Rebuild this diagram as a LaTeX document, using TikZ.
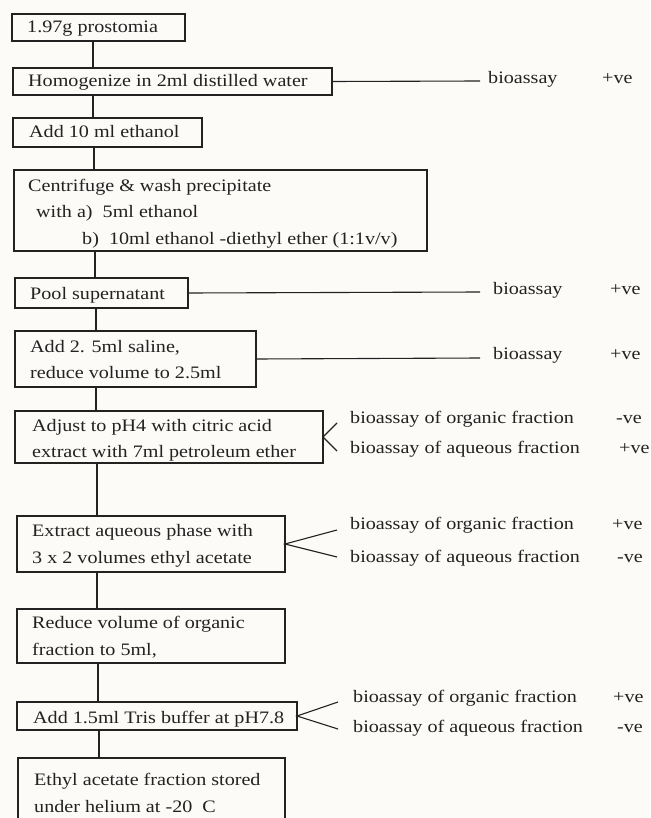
\documentclass[tikz,border=0pt]{standalone}
\usepackage{fontspec}
\setmainfont{Liberation Serif}[FakeStretch=1.15]
\definecolor{ink}{HTML}{222222}
\definecolor{paper}{HTML}{FCFBF8}
\begin{document}
\begin{tikzpicture}[x=1pt,y=-1pt,
  box/.style={draw=ink, line width=1.1pt, inner sep=0pt, outer sep=0pt, anchor=north west},
  txt/.style={anchor=base west, inner sep=0pt, text=ink, font=\fontsize{17.5}{20}\selectfont},
  link/.style={draw=ink, line width=1.1pt}]
\clip (0,0) rectangle (650,818);
\fill[paper] (0,0) rectangle (650,818);
% boxes
\node[box, minimum width=173pt, minimum height=27pt] (b1) at (12,14) {};
\node[box, minimum width=319pt, minimum height=27pt] (b2) at (13,68) {};
\node[box, minimum width=189pt, minimum height=29pt] (b3) at (13,118) {};
\node[box, minimum width=413pt, minimum height=81pt] (b4) at (14,170) {};
\node[box, minimum width=173pt, minimum height=30pt] (b5) at (15,278) {};
\node[box, minimum width=241pt, minimum height=56pt] (b6) at (15,331) {};
\node[box, minimum width=308pt, minimum height=52pt] (b7) at (15,411) {};
\node[box, minimum width=268pt, minimum height=56pt] (b8) at (17,516) {};
\node[box, minimum width=268pt, minimum height=54pt] (b9) at (17,609) {};
\node[box, minimum width=280pt, minimum height=28pt] (b10) at (17,702) {};
\node[box, minimum width=267pt, minimum height=90pt] (b11) at (18,758) {};
% box texts
\node[txt] (t1) at (27,33) {1.97g prostomia};
\node[txt] (t2) at (28,87) {Homogenize in 2ml distilled water};
\node[txt] (t3) at (29,138) {Add 10 ml ethanol};
\node[txt] (t4a) at (28,192) {Centrifuge \& wash precipitate};
\node[txt] (t4b) at (36,218) {with a)\ \ 5ml ethanol};
\node[txt] (t4c) at (82,244) {b)\ \ 10ml ethanol -diethyl ether (1:1v/v)};
\node[txt] (t5) at (30,299) {Pool supernatant};
\node[txt] (t6a) at (30,352) {Add 2. 5ml saline,};
\node[txt] (t6b) at (30,378) {reduce volume to 2.5ml};
\node[txt] (t7a) at (32,431) {Adjust to pH4 with citric acid};
\node[txt] (t7b) at (32,457) {extract with 7ml petroleum ether};
\node[txt] (t8a) at (32,536) {Extract aqueous phase with};
\node[txt] (t8b) at (32,563) {3 x 2 volumes ethyl acetate};
\node[txt] (t9a) at (32,628) {Reduce volume of organic};
\node[txt] (t9b) at (32,655) {fraction to 5ml,};
\node[txt] (t10) at (33,723) {Add 1.5ml Tris buffer at pH7.8};
\node[txt] (t11a) at (34,785) {Ethyl acetate fraction stored};
\node[txt] (t11b) at (34,812) {under helium at -20\ \ C};
% vertical connectors
\draw[link] (93,0 |- b1.south) -- (93,0 |- b2.north);
\draw[link] (93,0 |- b2.south) -- (93,0 |- b3.north);
\draw[link] (94,0 |- b3.south) -- (94,0 |- b4.north);
\draw[link] (95,0 |- b4.south) -- (95,0 |- b5.north);
\draw[link] (96,0 |- b5.south) -- (96,0 |- b6.north);
\draw[link] (96,0 |- b6.south) -- (96,0 |- b7.north);
\draw[link] (97,0 |- b7.south) -- (97,0 |- b8.north);
\draw[link] (97,0 |- b8.south) -- (97,0 |- b9.north);
\draw[link] (98,0 |- b9.south) -- (98,0 |- b10.north);
\draw[link] (99,0 |- b10.south) -- (99,0 |- b11.north);
% side results
\coordinate (e2) at (480,81);
\coordinate (e5) at (480,292);
\coordinate (e6) at (480,358);
\draw[link] (b2.east) -- (e2);
\draw[link] (b5.east) -- (e5);
\draw[link] (b6.east) -- (e6);
\node[txt] (r2) at (488,84) {bioassay};
\node[txt] (p2) at (602,84) {+ve};
\node[txt] (r5) at (493,294) {bioassay};
\node[txt] (p5) at (610,294) {+ve};
\node[txt] (r6) at (493,359) {bioassay};
\node[txt] (p6) at (610,359) {+ve};
% forks
\coordinate (f7a) at (337,423);
\coordinate (f7b) at (337,451);
\draw[link] (f7a) -- (b7.east) -- (f7b);
\coordinate (f8a) at (337,530);
\coordinate (f8b) at (337,557);
\draw[link] (f8a) -- (b8.east) -- (f8b);
\coordinate (f10a) at (338,702);
\coordinate (f10b) at (338,729);
\draw[link] (f10a) -- (b10.east) -- (f10b);
\node[txt] (r7a) at (350,423) {bioassay of organic fraction};
\node[txt] (r7b) at (350,453) {bioassay of aqueous fraction};
\node[txt] (p7a) at (616,423) {-ve};
\node[txt] (p7b) at (619,453) {+ve};
\node[txt] (r8a) at (350,529) {bioassay of organic fraction};
\node[txt] (r8b) at (350,562) {bioassay of aqueous fraction};
\node[txt] (p8a) at (612,529) {+ve};
\node[txt] (p8b) at (617,562) {-ve};
\node[txt] (r10a) at (353,702) {bioassay of organic fraction};
\node[txt] (r10b) at (353,732) {bioassay of aqueous fraction};
\node[txt] (p10a) at (613,702) {+ve};
\node[txt] (p10b) at (617,732) {-ve};
\end{tikzpicture}
\end{document}
